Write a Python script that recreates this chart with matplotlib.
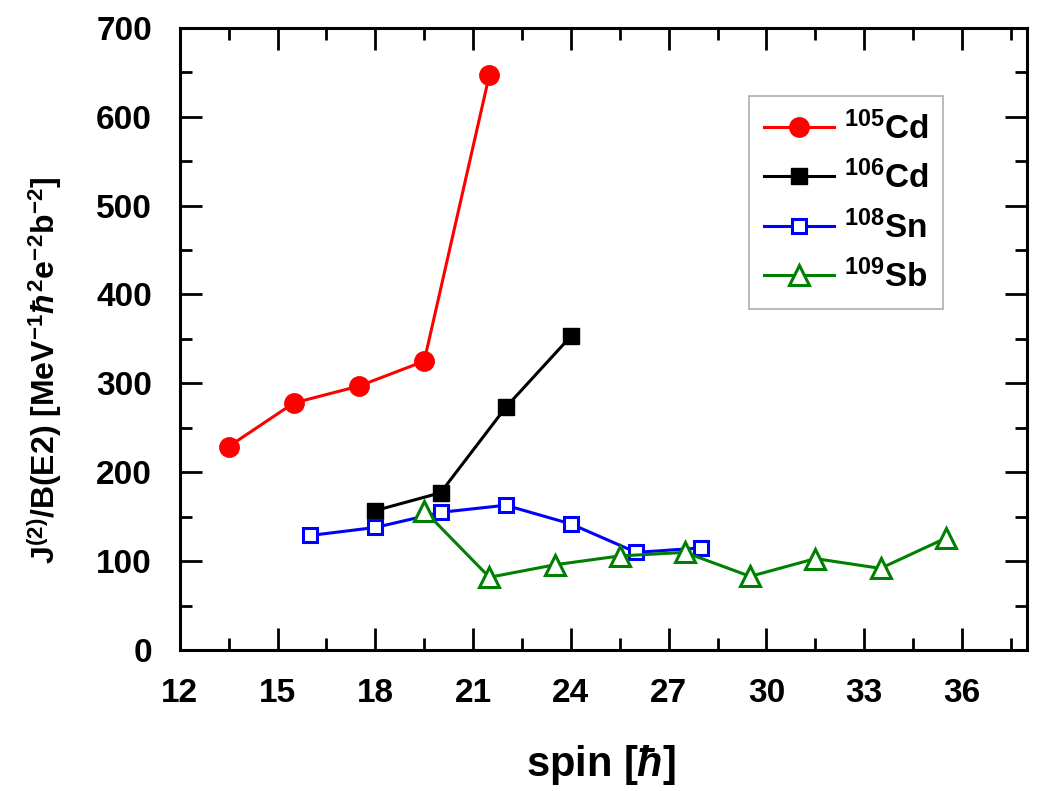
import matplotlib
matplotlib.use("Agg")
import matplotlib.pyplot as plt

plt.rcParams["font.family"] = ["Liberation Sans", "DejaVu Sans"]
plt.rcParams["font.weight"] = "bold"
plt.rcParams["mathtext.fontset"] = "custom"
plt.rcParams["mathtext.rm"] = "Liberation Sans:bold"
plt.rcParams["mathtext.it"] = "Liberation Sans:bold:italic"
plt.rcParams["mathtext.bf"] = "Liberation Sans:bold"

# data
cd105_spin = [13.5, 15.5, 17.5, 19.5, 21.5]
cd105_val = [229, 278, 297, 325, 647]

cd106_spin = [18, 20, 22, 24]
cd106_val = [157, 177, 273, 353]

sn108_spin = [16, 18, 20, 22, 24, 26, 28]
sn108_val = [129, 138, 155, 163, 142, 110, 115]

sb109_spin = [19.5, 21.5, 23.5, 25.5, 27.5, 29.5, 31.5, 33.5, 35.5]
sb109_val = [157, 82, 96, 106, 110, 83, 103, 92, 126]

fig = plt.figure(figsize=(10.45, 7.91), dpi=100)
ax = fig.add_axes([0.172, 0.178, 0.811, 0.787])

lw = 2.2
ax.plot(cd105_spin, cd105_val, color="red", lw=lw, marker="o", ms=14,
        label=r"$^{105}$Cd")
ax.plot(cd106_spin, cd106_val, color="black", lw=lw, marker="s", ms=12,
        label=r"$^{106}$Cd")
ax.plot(sn108_spin, sn108_val, color="blue", lw=lw, marker="s", ms=10,
        mfc="white", mew=2.2, label=r"$^{108}$Sn")
ax.plot(sb109_spin, sb109_val, color="green", lw=lw, marker="^", ms=14,
        mfc="white", mew=2.2, label=r"$^{109}$Sb")

ax.set_xlim(12, 38)
ax.set_ylim(0, 700)
ax.set_xticks(range(12, 37, 3))
ax.set_yticks(range(0, 701, 100))
ax.set_xticks([x + 1.5 for x in range(12, 37, 3)], minor=True)
ax.set_yticks(range(50, 700, 100), minor=True)
ax.tick_params(which="both", direction="in", top=True, right=True,
               labelsize=24, width=2)
ax.tick_params(which="major", length=16, pad=20)
ax.tick_params(which="minor", length=8.5)
for lab in ax.get_xticklabels() + ax.get_yticklabels():
    lab.set_fontweight("bold")
for s in ax.spines.values():
    s.set_linewidth(2.2)

ax.set_xlabel(r"spin [$\hbar$]", fontsize=30, fontweight="bold")
ax.xaxis.set_label_coords(0.497, -0.185)
ax.xaxis.label.set_va("center")
ax.set_ylabel(r"J$^{(2)}$/B(E2) [MeV$^{-1}\hbar^{2}$e$^{-2}$b$^{-2}$]",
              fontsize=23, fontweight="bold")
ax.yaxis.set_label_coords(-0.16, 0.45)
ax.yaxis.label.set_va("center")

leg = ax.legend(loc="upper right", bbox_to_anchor=(0.901, 0.89),
                borderaxespad=0, fontsize=24, fancybox=False,
                edgecolor="#999999", handlelength=2.1, borderpad=0.45,
                labelspacing=0.45, handletextpad=0.3)
leg.get_frame().set_linewidth(1.2)

fig.savefig("out.png", dpi=100)
